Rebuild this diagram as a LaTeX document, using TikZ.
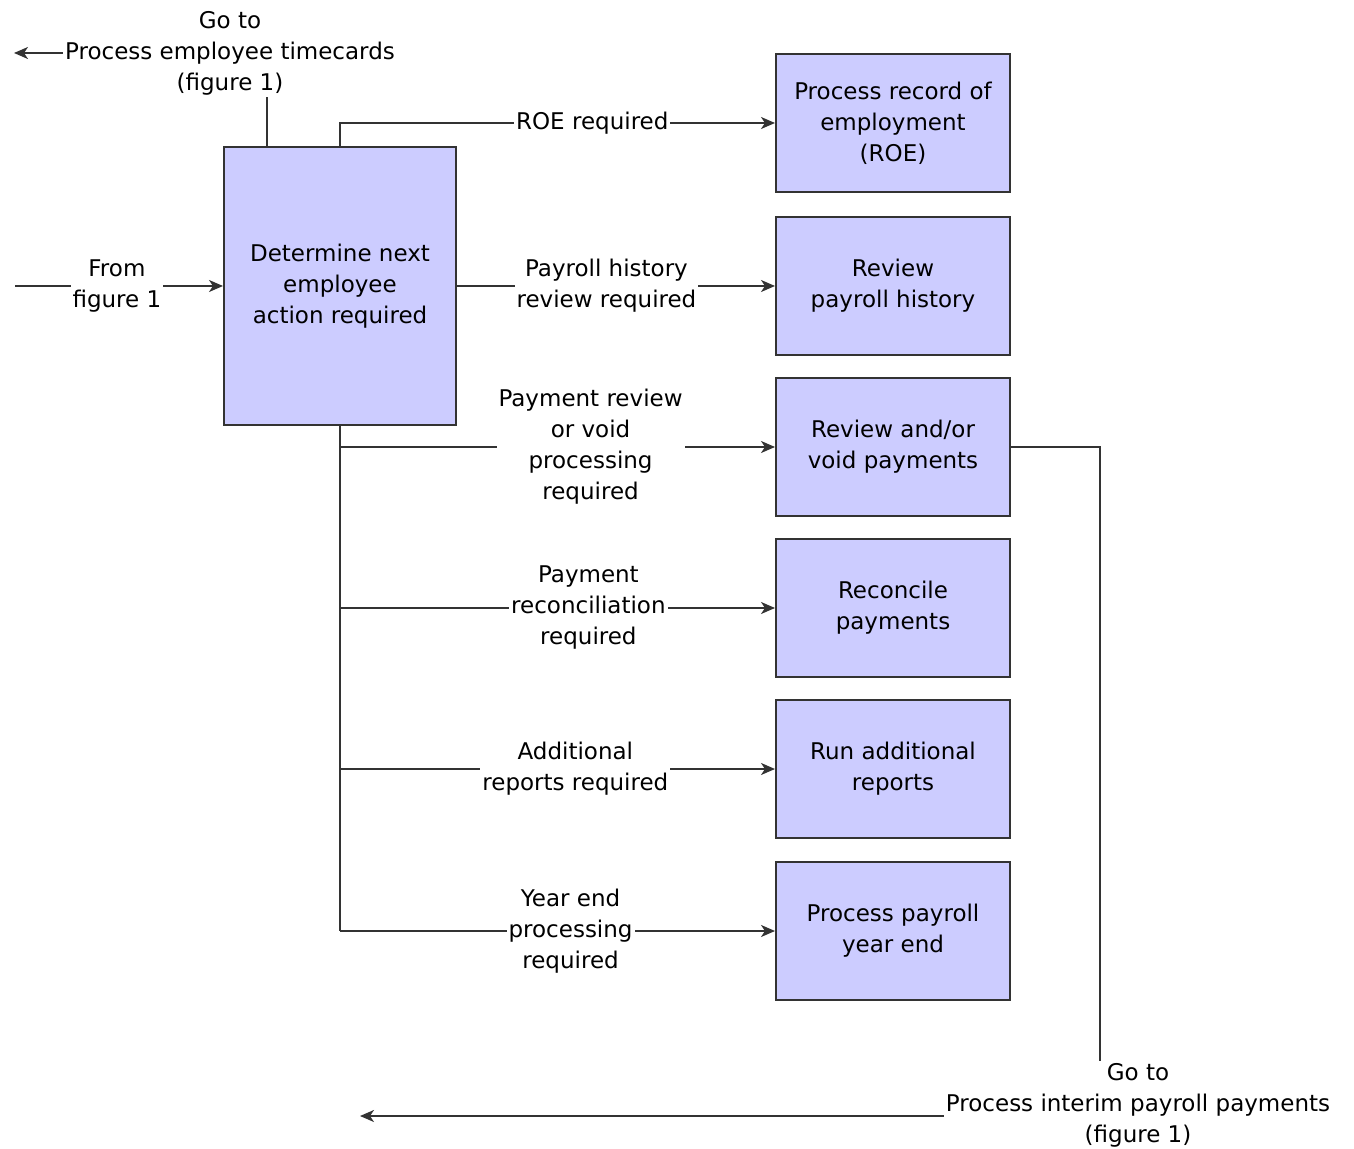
\documentclass[tikz,border=0pt]{standalone}
\usepackage{fontspec}
\setmainfont{DejaVu Sans}
\usetikzlibrary{arrows.meta}
\definecolor{actfill}{RGB}{204,204,255}
\definecolor{linegray}{RGB}{51,51,51}
\begin{document}
\begin{tikzpicture}[x=0.5pt,y=-0.5pt,
		font=\fontsize{11.5}{15.5}\selectfont,
		actbox/.style={draw=linegray,line width=1pt,fill=actfill,align=center,
			minimum width=117pt,minimum height=69pt,inner sep=2pt},
		flow/.style={draw=linegray,line width=1pt},
		arr/.style={flow,-{Stealth[length=7pt,width=6pt,inset=2pt]}},
		lbl/.style={fill=white,align=center,inner sep=1pt}]
	\useasboundingbox (0,0) rectangle (1354,1149);
	% main decision box
	\node[actbox,minimum width=116pt,minimum height=139pt] (decide) at (340,286) {Determine next\\employee\\action required};
	% actions on the right
	\node[actbox] (roe) at (893,123) {Process record of\\employment\\(ROE)};
	\node[actbox] (hist) at (893,286) {Review\\payroll history};
	\node[actbox] (void) at (893,447) {Review and/or\\void payments};
	\node[actbox] (recon) at (893,608) {Reconcile\\payments};
	\node[actbox] (reports) at (893,769) {Run additional\\reports};
	\node[actbox] (yearend) at (893,931) {Process payroll\\year end};
	% off-page references
	\node[align=center,inner sep=1pt] (gotime) at (230,53) {Go to\\Process employee timecards\\(figure 1)};
	\node[align=center,inner sep=1pt] (gointerim) at (1138,1105) {Go to\\Process interim payroll payments\\(figure 1)};
	\coordinate (fromfig) at (15,286);
	\coordinate (outtime) at (14,53);
	\coordinate (outinterim) at (360,1116);
	% connectors
	\draw[arr] (fromfig) -- node[lbl,pos=0.49] {From\\figure 1} (decide.west);
	\draw[flow] ([xshift=22pt]decide.north west) -- ([xshift=22pt]decide.north west |- gotime.south);
	\draw[arr] (gotime.west) -- (outtime);
	\draw[arr] (decide.north) |- node[lbl,pos=0.79] {ROE required} (roe.west);
	\draw[arr] (decide.east) -- node[lbl,pos=0.47] {Payroll history\\review required} (hist.west);
	\draw[flow] (decide.south) -- (decide.south |- yearend.west);
	\draw[arr] (decide.south |- void.west) -- node[lbl,pos=0.576] {Payment review\\or void\\processing\\required} (void.west);
	\draw[arr] (decide.south |- recon.west) -- node[lbl,pos=0.571] {Payment\\reconciliation\\required} (recon.west);
	\draw[arr] (decide.south |- reports.west) -- node[lbl,pos=0.541] {Additional\\reports required} (reports.west);
	\draw[arr] (decide.south |- yearend.west) -- node[lbl,pos=0.53] {Year end\\processing\\required} (yearend.west);
	\draw[flow] (void.east) -| ([xshift=-19pt]gointerim.north);
	\draw[arr] ([yshift=-5.5pt]gointerim.west) -- (outinterim);
\end{tikzpicture}
\end{document}
